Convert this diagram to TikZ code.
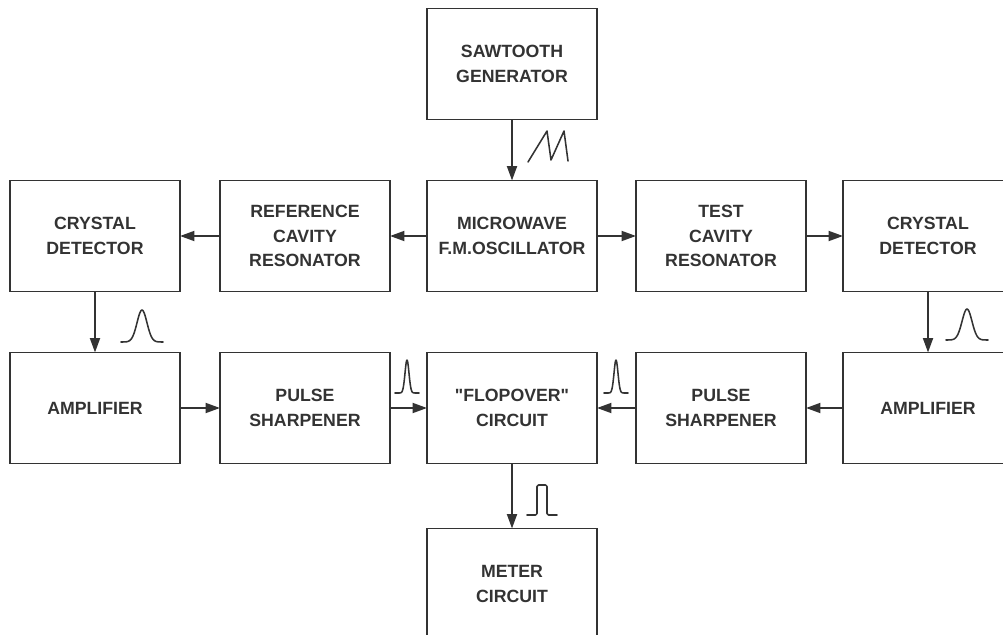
\documentclass[tikz,border=0pt]{standalone}
\usepackage{fontspec}
\setmainfont{Liberation Sans}[Ligatures=TeXOff]
\usetikzlibrary{arrows.meta}
\tikzset{every picture/.style={line width=1.3pt}}
\tikzset{
  blk/.style={draw, minimum width=4.25cm, minimum height=2.775cm,
    inner sep=0pt, outer sep=0pt, align=center,
    font=\fontsize{12.6}{17.5}\selectfont\bfseries},
  flow/.style={-{Triangle[length=3.6mm,width=2.5mm]}},
  wave/.style={line width=1.1pt, line join=round, line cap=round}
}

\begin{document}
\begin{tikzpicture}[x=0.025cm, y=-0.025cm, color=black!80]
    \useasboundingbox (0,0) rectangle (1003,635);
    \clip (0,0) rectangle (1003,635);
    % 方框
    \node[blk] (saw) at (512,64) {SAWTOOTH\\GENERATOR};
    \node[blk] (cdl) at (95,236) {CRYSTAL\\DETECTOR};
    \node[blk] (refc) at (305,236) {REFERENCE\\CAVITY\\RESONATOR};
    \node[blk] (mw) at (512,236) {MICROWAVE\\F.M.OSCILLATOR};
    \node[blk] (test) at (721,236) {TEST\\CAVITY\\RESONATOR};
    \node[blk] (cdr) at (928,236) {CRYSTAL\\DETECTOR};
    \node[blk] (ampl) at (95,408) {AMPLIFIER};
    \node[blk] (psl) at (305,408) {PULSE\\SHARPENER};
    \node[blk] (flop) at (512,408) {"FLOPOVER"\\CIRCUIT};
    \node[blk] (psr) at (721,408) {PULSE\\SHARPENER};
    \node[blk] (ampr) at (928,408) {AMPLIFIER};
    \node[blk] (meter) at (512,584) {METER\\CIRCUIT};
    % 箭头
    \draw[flow] (saw) -- (mw);
    \draw[flow] (mw) -- (refc);
    \draw[flow] (refc) -- (cdl);
    \draw[flow] (mw) -- (test);
    \draw[flow] (test) -- (cdr);
    \draw[flow] (cdl) -- (ampl);
    \draw[flow] (cdr) -- (ampr);
    \draw[flow] (ampl) -- (psl);
    \draw[flow] (psl) -- (flop);
    \draw[flow] (ampr) -- (psr);
    \draw[flow] (psr) -- (flop);
    \draw[flow] (flop) -- (meter);
    % 波形
    \draw[wave] (528,162) -- (547,131) -- (551,160) -- (564,131) -- (568,161);
    \draw[wave] plot[domain=-21:21, samples=50] ({142+\x}, {342-32*exp(-(\x/7)^2)});
    \draw[wave] plot[domain=-21:21, samples=50] ({967+\x}, {340-31*exp(-(\x/7)^2)});
    \draw[wave] plot[domain=-12:12, samples=50] ({407+\x}, {393-33*exp(-(\x/2.8)^2)});
    \draw[wave] plot[domain=-12:12, samples=50] ({616+\x}, {393-33*exp(-(\x/2.8)^2)});
    \draw[wave, rounded corners=1pt] (527,515) -- (537,515) -- (537,485)
        -- (547,485) -- (547,515) -- (557,515);
\end{tikzpicture}
\end{document}
